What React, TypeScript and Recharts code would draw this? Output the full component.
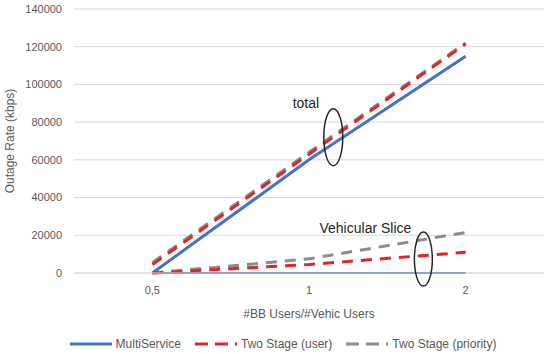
import {
  LineChart,
  Line,
  XAxis,
  YAxis,
  CartesianGrid,
  Legend,
  ReferenceDot,
} from 'recharts';

const categories = ['0,5', '1', '2'];
const multiTotal = [0, 60000, 115000];
const userTotal = [4500, 63000, 121500];
const priorityTotal = [5500, 64000, 122000];
const multiVehic = [0, 0, 0];
const userVehic = [0, 4500, 11000];
const priorityVehic = [0, 7500, 21500];
const yTicks = [0, 20000, 40000, 60000, 80000, 100000, 120000, 140000];

const BLUE = '#4472C4';
const RED = '#E0242B';
const GRAY = '#8C8C8C';
const TEXT = '#595959';
const FONT = '"Liberation Sans", Arial, sans-serif';

const data = categories.map((c, i) => ({
  x: i,
  multiTotal: multiTotal[i],
  userTotal: userTotal[i],
  priorityTotal: priorityTotal[i],
  multiVehic: multiVehic[i],
  userVehic: userVehic[i],
  priorityVehic: priorityVehic[i],
}));

const legendItems = [
  { name: 'MultiService', color: BLUE, dash: undefined },
  { name: 'Two Stage (user)', color: RED, dash: '13 7' },
  { name: 'Two Stage (priority)', color: GRAY, dash: '13 7' },
];

function LegendContent() {
  return (
    <div
      style={{
        display: 'flex',
        justifyContent: 'center',
        gap: 14,
        fontFamily: FONT,
        fontSize: 12,
        color: TEXT,
        paddingLeft: 22,
      }}
    >
      {legendItems.map((item) => (
        <div key={item.name} style={{ display: 'flex', alignItems: 'center' }}>
          <svg width={42} height={8} style={{ marginRight: 4 }}>
            <line
              x1={0}
              y1={4}
              x2={42}
              y2={4}
              stroke={item.color}
              strokeWidth={3}
              strokeDasharray={item.dash}
            />
          </svg>
          <span>{item.name}</span>
        </div>
      ))}
    </div>
  );
}

const ellipse =
  (rx: number, ry: number) =>
  (props: any) => (
    <ellipse
      cx={props.cx}
      cy={props.cy}
      rx={rx}
      ry={ry}
      fill="none"
      stroke="#262626"
      strokeWidth={1.5}
    />
  );

const note = (text: string) => (props: any) => (
  <text
    x={props.cx}
    y={props.cy}
    textAnchor="middle"
    dominantBaseline="middle"
    fontFamily={FONT}
    fontSize={14}
    fill="#262626"
  >
    {text}
  </text>
);

export default function App() {
  return (
    <div style={{ position: 'absolute', left: 0, top: 0, background: '#fff' }}>
      <LineChart
        width={550}
        height={354}
        data={data}
        margin={{ top: 9, right: 6, left: 0, bottom: 3 }}
      >
        <CartesianGrid vertical={false} stroke="#D9D9D9" />
        <XAxis
          dataKey="x"
          type="number"
          domain={[-0.5, 2.5]}
          ticks={[0, 1, 2]}
          tickFormatter={(v: number) => categories[v]}
          tickLine={false}
          axisLine={{ stroke: '#D9D9D9' }}
          tickMargin={7}
          height={64}
          tick={{ fill: TEXT, fontSize: 11, fontFamily: FONT }}
          label={{
            value: '#BB Users/#Vehic Users',
            position: 'insideBottom',
            offset: 19,
            fill: TEXT,
            fontSize: 12,
            fontFamily: FONT,
          }}
        />
        <YAxis
          domain={[0, 140000]}
          ticks={yTicks}
          width={74}
          tickLine={false}
          axisLine={false}
          tickMargin={6}
          tick={{ fill: TEXT, fontSize: 11, fontFamily: FONT }}
          label={{
            value: 'Outage Rate (kbps)',
            angle: -90,
            position: 'insideLeft',
            offset: 10,
            fill: TEXT,
            fontSize: 12,
            fontFamily: FONT,
            style: { textAnchor: 'middle' },
          }}
        />
        <Legend verticalAlign="bottom" content={<LegendContent />} />
        <Line dataKey="multiTotal" name="MultiService" stroke={BLUE} strokeWidth={3} dot={false} isAnimationActive={false} />
        <Line dataKey="multiVehic" name="MultiService vehic" stroke={BLUE} strokeWidth={2} dot={false} legendType="none" isAnimationActive={false} />
        <Line dataKey="priorityTotal" name="Two Stage (priority)" stroke={GRAY} strokeWidth={3} strokeDasharray="11 8" dot={false} isAnimationActive={false} />
        <Line dataKey="priorityVehic" name="Two Stage (priority) vehic" stroke={GRAY} strokeWidth={3} strokeDasharray="11 8" dot={false} legendType="none" isAnimationActive={false} />
        <Line dataKey="userTotal" name="Two Stage (user)" stroke={RED} strokeWidth={3} strokeDasharray="11 8" dot={false} isAnimationActive={false} />
        <Line dataKey="userVehic" name="Two Stage (user) vehic" stroke={RED} strokeWidth={3} strokeDasharray="11 8" dot={false} legendType="none" isAnimationActive={false} />
        <ReferenceDot x={1.155} y={72000} r={1} shape={ellipse(9.5, 28.5)} />
        <ReferenceDot x={1.73} y={7400} r={1} shape={ellipse(9, 27)} />
        <ReferenceDot x={0.98} y={89600} r={1} shape={note('total')} />
        <ReferenceDot x={1.36} y={23300} r={1} shape={note('Vehicular Slice')} />
      </LineChart>
    </div>
  );
}
